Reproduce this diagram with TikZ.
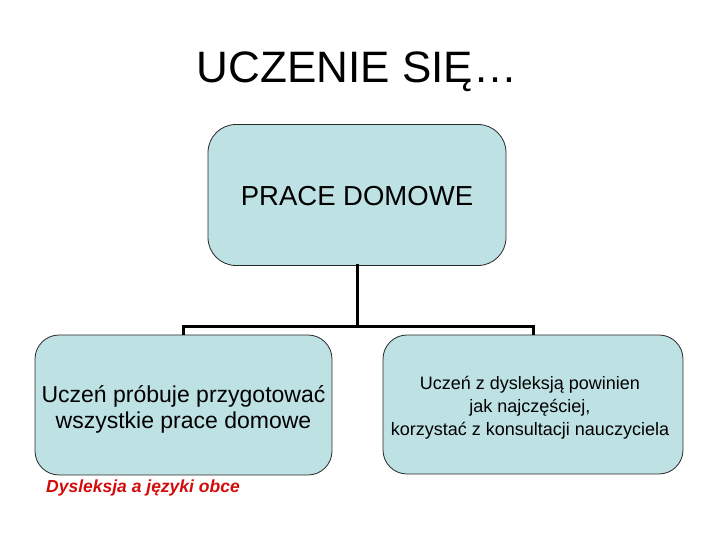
\documentclass[tikz,border=0pt]{standalone}
\usepackage{fontspec}
\setmainfont{Liberation Sans}
\definecolor{boxfill}{RGB}{190,225,228}
\definecolor{boxline}{RGB}{40,40,40}
\definecolor{redtext}{RGB}{210,12,12}
\begin{document}
\begin{tikzpicture}[x=1pt,y=1pt,
  orgbox/.style={draw=boxline,line width=0.8pt,fill=boxfill,inner sep=0pt},
  boxtext/.style={inner sep=0pt,align=center},
  link/.style={line width=3pt,line cap=rect}]
\useasboundingbox (0,0) rectangle (720,540);
\node[orgbox,rounded corners=28pt,minimum width=298pt,minimum height=141pt] (top) at (357,345) {};
\node[boxtext,font=\fontsize{27.5}{32}\selectfont] (toptext) at ([yshift=-1pt]top.center) {PRACE DOMOWE};
\node[orgbox,rounded corners=24pt,minimum width=297pt,minimum height=140pt] (left) at (183.5,135) {};
\node[boxtext,font=\fontsize{23}{26.5}\selectfont] (lefttext) at ([yshift=-4.5pt]left.center) {Uczeń próbuje przygotować\\ wszystkie prace domowe};
\node[orgbox,rounded corners=24pt,minimum width=300pt,minimum height=139pt] (right) at (533,135.5) {};
\node[boxtext,font=\fontsize{18}{23}\selectfont] (righttext) at ([xshift=-3pt,yshift=-3pt]right.center) {Uczeń z dysleksją powinien\\jak najczęściej,\\korzystać z konsultacji nauczyciela};
\coordinate (j) at (357,213.5);
\draw[link] (top.south) -- (j);
\draw[link,line cap=butt] (left.north) |- (j) -| (right.north);
\node[anchor=base,font=\fontsize{44}{50}\selectfont,inner sep=0pt] (title) at (357,457) {UCZENIE SIĘ…};
\node[anchor=base west,font=\fontsize{17.5}{20}\selectfont\bfseries\itshape,text=redtext,inner sep=0pt] (foot) at (46,47) {Dysleksja a języki obce};
\end{tikzpicture}
\end{document}
